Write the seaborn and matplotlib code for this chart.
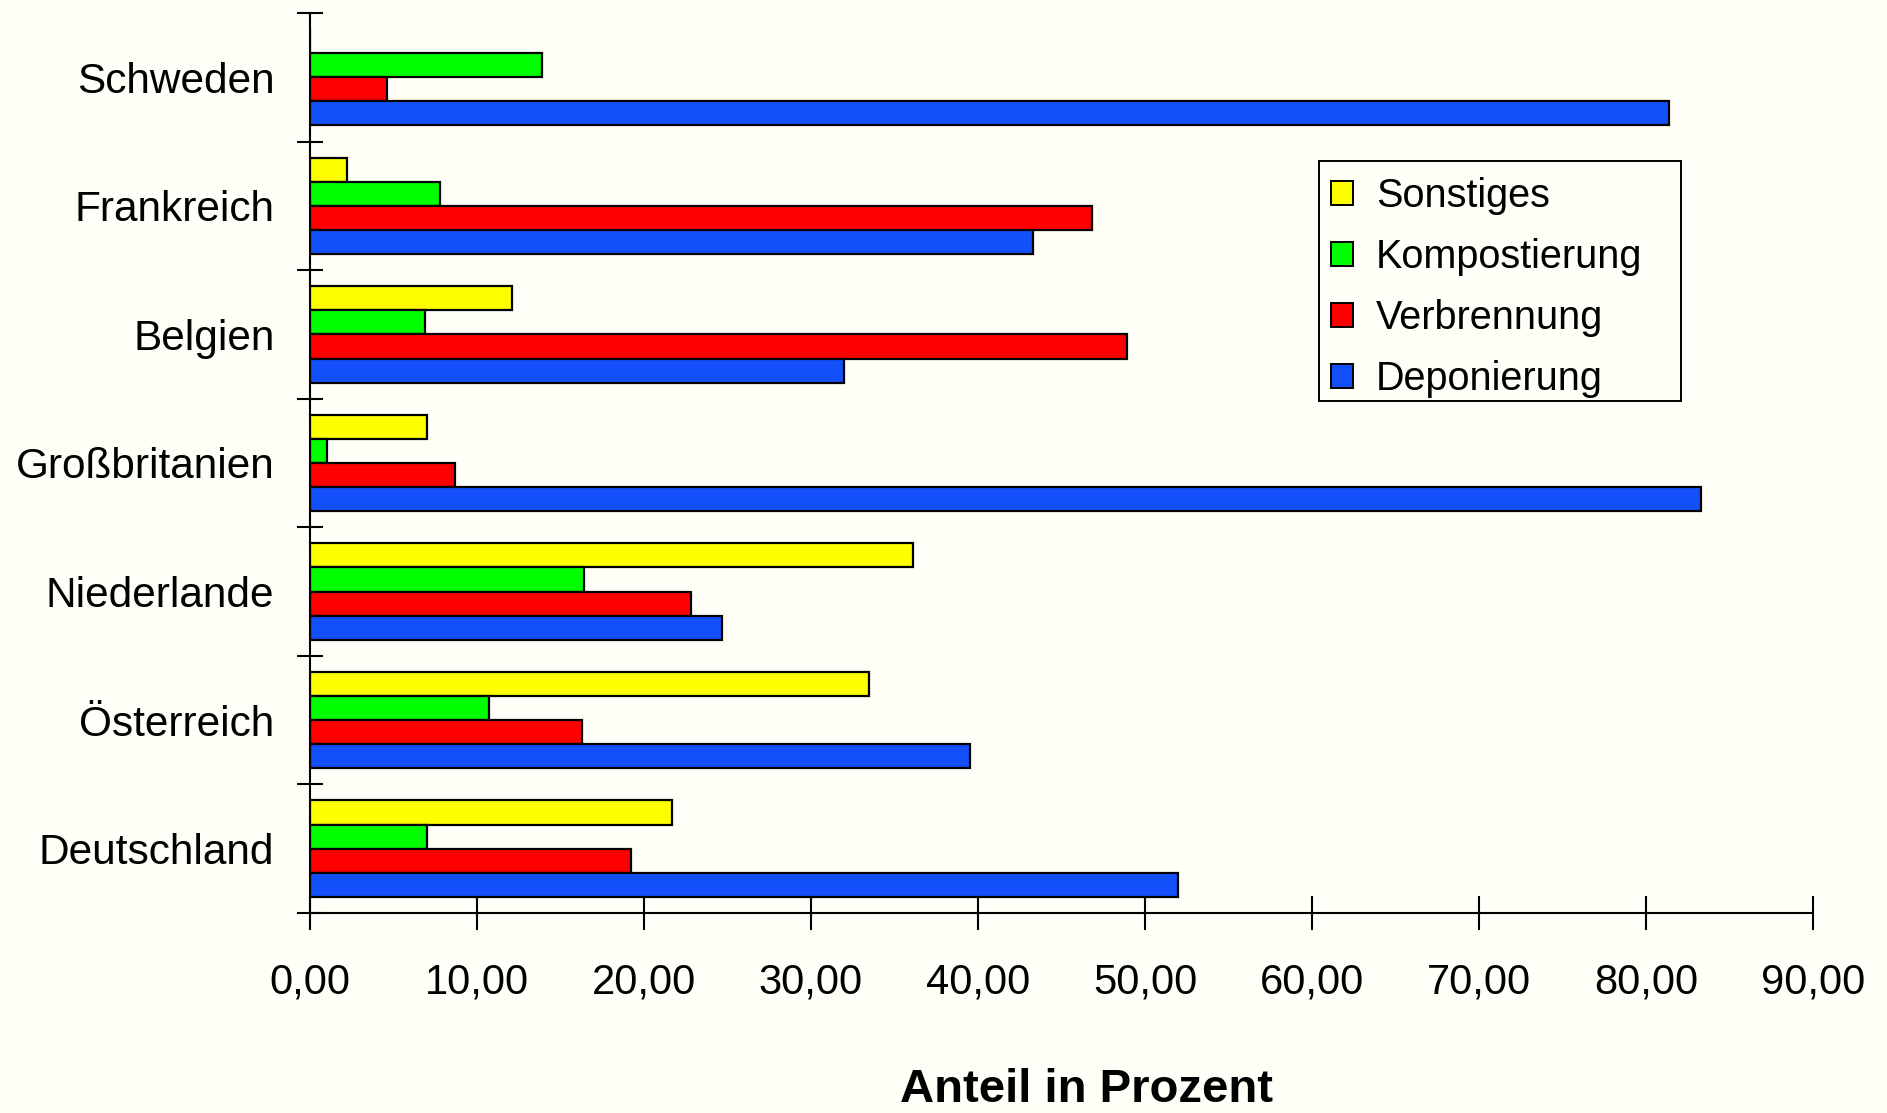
import numpy as np
import pandas as pd
import matplotlib
matplotlib.use("Agg")
import matplotlib.pyplot as plt
import seaborn as sns
from matplotlib.patches import Patch, Rectangle

# ---------------- data ----------------
countries = ["Schweden", "Frankreich", "Belgien", "Großbritanien",
             "Niederlande", "Österreich", "Deutschland"]
series = ["Sonstiges", "Kompostierung", "Verbrennung", "Deponierung"]
sonstiges = [0.0, 2.2, 12.1, 7.0, 36.1, 33.5, 21.7]
kompostierung = [13.9, 7.8, 6.9, 1.0, 16.4, 10.7, 7.0]
verbrennung = [4.6, 46.8, 48.9, 8.7, 22.8, 16.3, 19.2]
deponierung = [81.4, 43.3, 32.0, 83.3, 24.7, 39.5, 52.0]
x_ticks = [0, 10, 20, 30, 40, 50, 60, 70, 80, 90]
x_tick_labels = ["0,00", "10,00", "20,00", "30,00", "40,00",
                 "50,00", "60,00", "70,00", "80,00", "90,00"]
x_label = "Anteil in Prozent"
colors = {"Sonstiges": "#FFFF00", "Kompostierung": "#00FF00",
          "Verbrennung": "#FF0000", "Deponierung": "#1450FA"}

df = pd.DataFrame({
    "Land": countries * 4,
    "Art": np.repeat(series, len(countries)),
    "Anteil": sonstiges + kompostierung + verbrennung + deponierung,
})

# ---------------- style ----------------
bg = "#FFFFF8"
plt.rcParams["font.family"] = ["Liberation Sans", "DejaVu Sans"]

W, H = 1887, 1113
fig = plt.figure(figsize=(W / 100, H / 100), dpi=100, facecolor=bg)
ax_left, ax_right, ax_top, ax_bottom = 310, 1813, 13, 913
ax = fig.add_axes([ax_left / W, 1 - ax_bottom / H,
                   (ax_right - ax_left) / W, (ax_bottom - ax_top) / H])
ax.set_facecolor(bg)

sns.barplot(data=df, y="Land", x="Anteil", hue="Art", order=countries,
            hue_order=series, palette=colors, orient="h", width=0.75,
            edgecolor="black", linewidth=1.6, errorbar=None, legend=False,
            saturation=1, ax=ax)

ax.set_xlim(0, 90)
ax.set_ylim(len(countries) - 0.5, -0.5)
for s in ["top", "right"]:
    ax.spines[s].set_visible(False)
for s in ["left", "bottom"]:
    ax.spines[s].set_linewidth(1.5)
    ax.spines[s].set_color("black")

ax.set_xticks(x_ticks, x_tick_labels)
ax.tick_params(axis="x", which="major", direction="inout", length=24,
               width=1.5, pad=23.5, labelsize=30, colors="black")
ax.tick_params(axis="x", which="minor", length=0)

ax.set_yticks(np.arange(-0.5, len(countries), 1.0))
ax.set_yticklabels([])
ax.tick_params(axis="y", which="major", direction="inout", length=19.4,
               width=1.5, colors="black")
ax.set_yticks(np.arange(len(countries)), minor=True)
ax.set_yticklabels(countries, minor=True)
ax.tick_params(axis="y", which="minor", length=0, pad=25.6, labelsize=30.5)

ax.set_xlabel("")
ax.set_ylabel("")

fig.text(1087 / W, 1.5 / H, x_label, ha="center", va="bottom",
         fontsize=34, fontweight="bold")

# ---------------- legend ----------------
handles = [Patch(facecolor=colors[s], edgecolor="black", linewidth=1.4, label=s)
           for s in series]
leg = ax.legend(handles=handles, loc="upper left",
                bbox_to_anchor=(1331 / W, 1 - 177 / H),
                bbox_transform=fig.transFigure, frameon=False,
                fontsize=28.5, handlelength=0.556, handleheight=0.556,
                handletextpad=0.58, labelspacing=0.58, borderpad=0,
                borderaxespad=0)
fig.patches.append(Rectangle((1319 / W, 1 - 401 / H), (1681 - 1319) / W,
                             (401 - 161) / H, transform=fig.transFigure,
                             facecolor="none", edgecolor="black",
                             linewidth=1.4, zorder=5))

fig.savefig("out.png", dpi=100, facecolor=bg)
